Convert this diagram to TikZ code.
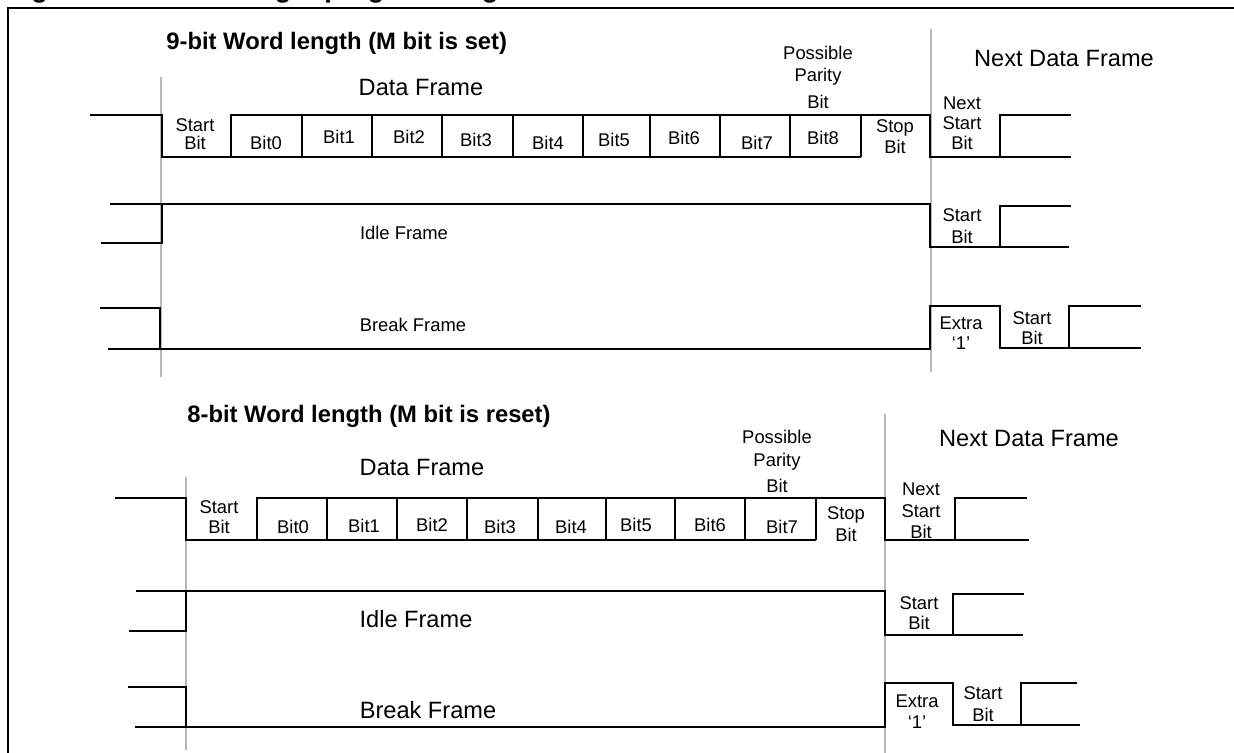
\documentclass[tikz,border=0pt]{standalone}
\usepackage{fontspec}
\setmainfont{Liberation Sans}
\begin{document}
\begin{tikzpicture}[x=0.5pt,y=-0.5pt,
  sig/.style={line width=1.3pt},
  frm/.style={line width=1.3pt},
  guide/.style={draw=black!28, line width=0.8pt},
  lbl/.style={font=\fontsize{9.2}{9.5}\selectfont, align=center, inner sep=0pt},
  big/.style={font=\fontsize{11.8}{14}\selectfont, inner sep=0pt},
  ttl/.style={font=\bfseries\fontsize{11.9}{14}\selectfont, inner sep=0pt, anchor=west}]
\useasboundingbox (0,0) rectangle (1234,753);

% caption (only its descenders fall inside the page) and frame
\node[anchor=base west, font=\bfseries\fontsize{13.5}{15}\selectfont, inner sep=0pt] (cap) at (7,-2.5) {Figure 281. Word length programming};
\draw[frm] (8,753) -- (8,8) -- (1234,8);

% ================= 9-bit section =================
\draw[guide] (161,77) -- (161,377);
\draw[guide] (931,29) -- (931,372);

\node[ttl] (t9) at (166,43) {9-bit Word length (M bit is set)};
\node[big] (df9) at (421,88) {Data Frame};
\node[big] (ndf9) at (1064,59) {Next Data Frame};
\node[lbl, font=\fontsize{9.2}{11}\selectfont] (par9) at (818,77) {Possible\\Parity\\[2.5pt]Bit};

% data frame waveform
\draw[sig] (90,115) -- (162,115) -- (162,157) -- (861,157);
\draw[sig] (231,157) -- (231,115) -- (930,115) -- (930,157) -- (1071,157);
\draw[sig] (1071,115) -- (1000,115) -- (1000,157);
\foreach \x in {302,372,442,513,583,650,720,790,861}
  \draw[sig] (\x,115) -- (\x,157);

\node[lbl, font=\fontsize{9.2}{9}\selectfont] (sb9) at (195,134) {Start\\Bit};
\node[lbl] (b09) at (266,143) {Bit0};
\node[lbl] (b19) at (339,137) {Bit1};
\node[lbl] (b29) at (409,137) {Bit2};
\node[lbl] (b39) at (476,140) {Bit3};
\node[lbl] (b49) at (548,143) {Bit4};
\node[lbl] (b59) at (614,140) {Bit5};
\node[lbl] (b69) at (684,138) {Bit6};
\node[lbl] (b79) at (757,143) {Bit7};
\node[lbl] (b89) at (823,138) {Bit8};
\node[lbl, font=\fontsize{9.2}{10.5}\selectfont] (stop9) at (895,137) {Stop\\Bit};
\node[lbl, font=\fontsize{9.2}{10}\selectfont] (nsb9) at (962,123) {Next\\Start\\Bit};

% idle frame waveform
\draw[sig] (101,243) -- (162,243) -- (162,204);
\draw[sig] (110,204) -- (930,204) -- (930,247) -- (1069,247);
\draw[sig] (1000,247) -- (1000,206) -- (1071,206);
\node[lbl] (idle9) at (404,233) {Idle Frame};
\node[lbl, font=\fontsize{9.2}{11}\selectfont] (isb9) at (962,226) {Start\\Bit};

% break frame waveform
\draw[sig] (100,308) -- (160,308) -- (160,349);
\draw[sig] (108,349) -- (930,349) -- (930,306) -- (1000,306) -- (1000,348) -- (1141,348);
\draw[sig] (1069,348) -- (1069,306) -- (1141,306);
\node[lbl] (brk9) at (413,325) {Break Frame};
\node[lbl, font=\fontsize{9.2}{10}\selectfont] (ex9) at (961,333) {Extra\\‘1’};
\node[lbl, font=\fontsize{9.2}{10}\selectfont] (bsb9) at (1032,328) {Start\\Bit};

% ================= 8-bit section =================
\draw[guide] (186,477) -- (186,750);
\draw[guide] (885,414) -- (885,753);

\node[ttl] (t8) at (187,416) {8-bit Word length (M bit is reset)};
\node[big] (df8) at (422,467) {Data Frame};
\node[big] (ndf8) at (1029,438) {Next Data Frame};
\node[lbl, font=\fontsize{9.2}{11.5}\selectfont] (par8) at (777,461) {Possible\\Parity\\[1.5pt]Bit};

% data frame waveform
\draw[sig] (115,498) -- (186,498) -- (186,540) -- (816,540);
\draw[sig] (257,540) -- (257,498) -- (885,498) -- (885,540) -- (1029,540);
\draw[sig] (1027,498) -- (955,498) -- (955,540);
\foreach \x in {327,397,467,538,606,675,745,816}
  \draw[sig] (\x,498) -- (\x,540);

\node[lbl, font=\fontsize{9.2}{10}\selectfont] (sb8) at (219,517) {Start\\Bit};
\node[lbl] (b08) at (293,527) {Bit0};
\node[lbl] (b18) at (364,526) {Bit1};
\node[lbl] (b28) at (432,525) {Bit2};
\node[lbl] (b38) at (500,527) {Bit3};
\node[lbl] (b48) at (571,527) {Bit4};
\node[lbl] (b58) at (636,525) {Bit5};
\node[lbl] (b68) at (710,525) {Bit6};
\node[lbl] (b78) at (782,527) {Bit7};
\node[lbl, font=\fontsize{9.2}{11}\selectfont] (stop8) at (846,524) {Stop\\Bit};
\node[lbl, font=\fontsize{9.2}{10.75}\selectfont] (nsb8) at (921,511) {Next\\Start\\Bit};

% idle frame waveform
\draw[sig] (129,631) -- (186,631) -- (186,591);
\draw[sig] (136,591) -- (885,591) -- (885,635) -- (1023,635);
\draw[sig] (953,635) -- (953,594) -- (1024,594);
\node[big] (idle8) at (416,619) {Idle Frame};
\node[lbl, font=\fontsize{9.2}{10}\selectfont] (isb8) at (919,613) {Start\\Bit};

% break frame waveform
\draw[sig] (128,687) -- (186,687) -- (186,727);
\draw[sig] (135,727) -- (885,727) -- (885,683) -- (953,683) -- (953,725) -- (1080,725);
\draw[sig] (1021,725) -- (1021,683) -- (1077,683);
\node[big] (brk8) at (428,710) {Break Frame};
\node[lbl, font=\fontsize{9.2}{10.5}\selectfont] (ex8) at (917,712) {Extra\\‘1’};
\node[lbl, font=\fontsize{9.2}{11}\selectfont] (bsb8) at (983,704) {Start\\Bit};
\end{tikzpicture}
\end{document}
